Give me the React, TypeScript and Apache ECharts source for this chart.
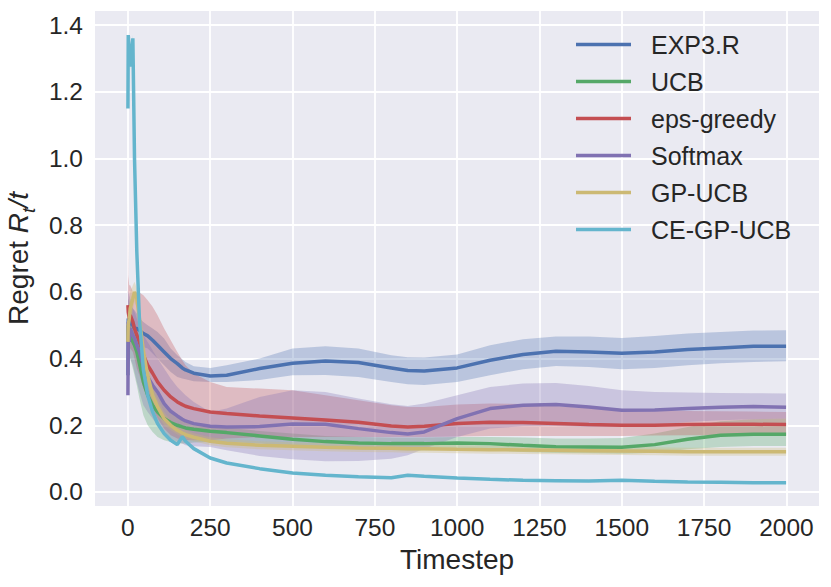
import React, { useEffect, useRef } from "react";
import * as echarts from "echarts";

const STEPS = [0, 1, 4, 7, 15, 20, 27, 35, 47, 60, 75, 90, 110, 130, 150, 165, 175, 200, 250, 300, 400, 500, 600, 700, 800, 850, 900, 1000, 1100, 1200, 1300, 1400, 1500, 1600, 1700, 1800, 1900, 1999];

const X_TICKS = [0, 250, 500, 750, 1000, 1250, 1500, 1750, 2000];
const Y_TICKS = [0, 0.2, 0.4, 0.6, 0.8, 1.0, 1.2, 1.4];

const NAMES = ["EXP3.R", "UCB", "eps-greedy", "Softmax", "GP-UCB", "CE-GP-UCB"];
const COLORS = ["#4C72B0", "#55A868", "#C44E52", "#8172B2", "#CCB974", "#64B5CD"];

// EXP3.R
const exp3Mean = [0.35, 0.52, 0.5, 0.515, 0.5, 0.49, 0.49, 0.485, 0.475, 0.468, 0.455, 0.44, 0.42, 0.4, 0.385, 0.372, 0.366, 0.356, 0.348, 0.35, 0.37, 0.386, 0.393, 0.388, 0.372, 0.364, 0.363, 0.372, 0.395, 0.412, 0.422, 0.42, 0.416, 0.42, 0.427, 0.432, 0.437, 0.437];
const exp3Upper = [0.6, 0.58, 0.57, 0.56, 0.55, 0.545, 0.535, 0.52, 0.51, 0.5, 0.49, 0.48, 0.46, 0.43, 0.41, 0.398, 0.39, 0.377, 0.372, 0.38, 0.4, 0.43, 0.437, 0.43, 0.41, 0.404, 0.403, 0.412, 0.44, 0.458, 0.466, 0.466, 0.462, 0.468, 0.475, 0.48, 0.484, 0.485];
const exp3Lower = [0.3, 0.46, 0.45, 0.45, 0.45, 0.445, 0.44, 0.44, 0.435, 0.43, 0.415, 0.4, 0.38, 0.36, 0.345, 0.34, 0.338, 0.332, 0.33, 0.33, 0.336, 0.35, 0.351, 0.345, 0.33, 0.323, 0.321, 0.33, 0.35, 0.368, 0.378, 0.375, 0.368, 0.372, 0.38, 0.386, 0.39, 0.392];

// UCB
const ucbMean = [0.45, 0.5, 0.48, 0.47, 0.45, 0.44, 0.42, 0.385, 0.33, 0.29, 0.26, 0.24, 0.22, 0.208, 0.2, 0.195, 0.192, 0.188, 0.182, 0.178, 0.168, 0.158, 0.151, 0.147, 0.145, 0.145, 0.145, 0.147, 0.145, 0.14, 0.136, 0.135, 0.134, 0.142, 0.158, 0.17, 0.173, 0.173];
const ucbUpper = [0.55, 0.56, 0.55, 0.54, 0.52, 0.51, 0.49, 0.46, 0.41, 0.36, 0.32, 0.29, 0.26, 0.24, 0.225, 0.215, 0.21, 0.205, 0.198, 0.193, 0.183, 0.175, 0.168, 0.165, 0.163, 0.163, 0.163, 0.165, 0.165, 0.163, 0.16, 0.16, 0.162, 0.175, 0.195, 0.212, 0.218, 0.22];
const ucbLower = [0.3, 0.42, 0.41, 0.4, 0.37, 0.35, 0.32, 0.28, 0.23, 0.2, 0.18, 0.165, 0.155, 0.15, 0.145, 0.145, 0.145, 0.148, 0.15, 0.15, 0.145, 0.138, 0.132, 0.128, 0.126, 0.125, 0.125, 0.127, 0.125, 0.12, 0.117, 0.116, 0.115, 0.118, 0.128, 0.135, 0.138, 0.138];

// eps-greedy
const epsMean = [0.56, 0.54, 0.52, 0.53, 0.51, 0.49, 0.47, 0.45, 0.41, 0.38, 0.356, 0.33, 0.305, 0.285, 0.27, 0.262, 0.257, 0.25, 0.24, 0.235, 0.228, 0.222, 0.216, 0.209, 0.198, 0.195, 0.197, 0.205, 0.209, 0.208, 0.205, 0.202, 0.2, 0.2, 0.202, 0.203, 0.203, 0.202];
const epsUpper = [0.88, 0.65, 0.62, 0.62, 0.6, 0.6, 0.6, 0.598, 0.59, 0.575, 0.555, 0.53, 0.49, 0.455, 0.42, 0.395, 0.38, 0.355, 0.33, 0.315, 0.31, 0.305, 0.29, 0.275, 0.26, 0.255, 0.255, 0.262, 0.265, 0.264, 0.258, 0.252, 0.248, 0.245, 0.243, 0.242, 0.241, 0.24];
const epsLower = [0.38, 0.45, 0.44, 0.43, 0.42, 0.4, 0.37, 0.35, 0.31, 0.28, 0.25, 0.22, 0.19, 0.17, 0.16, 0.157, 0.156, 0.155, 0.155, 0.16, 0.165, 0.165, 0.165, 0.165, 0.165, 0.165, 0.165, 0.166, 0.168, 0.168, 0.168, 0.168, 0.168, 0.169, 0.17, 0.17, 0.17, 0.17];

// Softmax
const softMean = [0.29, 0.51, 0.45, 0.49, 0.47, 0.46, 0.44, 0.42, 0.375, 0.345, 0.32, 0.3, 0.265, 0.242, 0.228, 0.218, 0.213, 0.205, 0.197, 0.195, 0.196, 0.204, 0.203, 0.19, 0.178, 0.174, 0.18, 0.22, 0.25, 0.26, 0.262, 0.255, 0.245, 0.246, 0.25, 0.254, 0.256, 0.254];
const softUpper = [0.82, 0.6, 0.59, 0.58, 0.55, 0.54, 0.52, 0.5, 0.47, 0.45, 0.425, 0.4, 0.37, 0.34, 0.315, 0.3, 0.29, 0.27, 0.24, 0.25, 0.285, 0.305, 0.3, 0.28, 0.263, 0.258, 0.265, 0.29, 0.315, 0.325, 0.327, 0.318, 0.305, 0.3, 0.298, 0.297, 0.296, 0.295];
const softLower = [0.1, 0.35, 0.38, 0.4, 0.38, 0.36, 0.33, 0.3, 0.26, 0.24, 0.22, 0.2, 0.18, 0.16, 0.15, 0.145, 0.14, 0.137, 0.135, 0.125, 0.108, 0.098, 0.092, 0.093, 0.1, 0.11, 0.13, 0.165, 0.19, 0.197, 0.198, 0.195, 0.195, 0.2, 0.21, 0.215, 0.218, 0.22];

// GP-UCB
const gpMean = [0.45, 0.5, 0.52, 0.55, 0.58, 0.6, 0.58, 0.52, 0.42, 0.35, 0.29, 0.255, 0.22, 0.2, 0.185, 0.177, 0.172, 0.164, 0.152, 0.146, 0.14, 0.137, 0.134, 0.132, 0.131, 0.13, 0.13, 0.128, 0.127, 0.126, 0.125, 0.124, 0.123, 0.122, 0.121, 0.121, 0.121, 0.121];
const gpUpper = [0.5, 0.55, 0.57, 0.6, 0.62, 0.63, 0.61, 0.56, 0.46, 0.39, 0.32, 0.28, 0.24, 0.215, 0.198, 0.19, 0.185, 0.176, 0.164, 0.158, 0.152, 0.149, 0.146, 0.144, 0.143, 0.142, 0.142, 0.14, 0.139, 0.138, 0.137, 0.136, 0.135, 0.134, 0.133, 0.133, 0.133, 0.133];
const gpLower = [0.4, 0.45, 0.47, 0.5, 0.54, 0.57, 0.55, 0.48, 0.38, 0.31, 0.26, 0.23, 0.2, 0.185, 0.172, 0.164, 0.16, 0.152, 0.14, 0.134, 0.128, 0.125, 0.122, 0.12, 0.119, 0.118, 0.118, 0.116, 0.115, 0.114, 0.113, 0.112, 0.111, 0.11, 0.109, 0.109, 0.109, 0.109];

// CE-GP-UCB
const ceMean = [1.15, 1.37, 1.32, 1.275, 1.36, 1.0, 0.72, 0.515, 0.366, 0.29, 0.24, 0.205, 0.175, 0.155, 0.142, 0.166, 0.152, 0.13, 0.102, 0.087, 0.07, 0.057, 0.05, 0.046, 0.043, 0.05, 0.047, 0.042, 0.038, 0.035, 0.034, 0.033, 0.035, 0.032, 0.03, 0.029, 0.028, 0.028];
const ceUpper = [1.16, 1.38, 1.33, 1.285, 1.37, 1.01, 0.73, 0.525, 0.374, 0.297, 0.246, 0.21, 0.18, 0.16, 0.147, 0.17, 0.156, 0.134, 0.105, 0.09, 0.073, 0.06, 0.053, 0.049, 0.046, 0.053, 0.05, 0.045, 0.041, 0.038, 0.037, 0.036, 0.038, 0.035, 0.033, 0.032, 0.031, 0.031];
const ceLower = [1.14, 1.36, 1.31, 1.265, 1.35, 0.99, 0.71, 0.505, 0.358, 0.283, 0.234, 0.2, 0.17, 0.15, 0.137, 0.162, 0.148, 0.126, 0.099, 0.084, 0.067, 0.054, 0.047, 0.043, 0.04, 0.047, 0.044, 0.039, 0.035, 0.032, 0.031, 0.03, 0.032, 0.029, 0.027, 0.026, 0.025, 0.025];

const MEANS = [exp3Mean, ucbMean, epsMean, softMean, gpMean, ceMean];
const UPPERS = [exp3Upper, ucbUpper, epsUpper, softUpper, gpUpper, ceUpper];
const LOWERS = [exp3Lower, ucbLower, epsLower, softLower, gpLower, ceLower];

const TEXT = "#262626";
const FONT = "'Liberation Sans', Arial, sans-serif";

export default function App() {
  const ref = useRef<HTMLDivElement>(null);
  useEffect(() => {
    document.body.style.margin = "0";
    const chart = echarts.init(ref.current!, null, { renderer: "svg" });

    const bandSeries = NAMES.map((name, k) => ({
      type: "custom",
      name: name + "-band",
      silent: true,
      clip: true,
      z: 1,
      data: [[STEPS[0], MEANS[k][0]]],
      renderItem: (params: any, api: any) => {
        const up = STEPS.map((s, i) => api.coord([s, UPPERS[k][i]]));
        const lo = STEPS.map((s, i) => api.coord([s, LOWERS[k][i]])).reverse();
        return {
          type: "polygon",
          shape: { points: up.concat(lo) },
          style: { fill: COLORS[k], opacity: 0.3 },
        };
      },
    }));

    const lineSeries = NAMES.map((name, k) => ({
      type: "line",
      name,
      z: 3,
      showSymbol: false,
      symbol: "none",
      color: COLORS[k],
      lineStyle: { width: 3.5, color: COLORS[k] },
      data: STEPS.map((s, i) => [s, MEANS[k][i]]),
    }));

    chart.setOption({
      animation: false,
      backgroundColor: "#ffffff",
      textStyle: { fontFamily: FONT },
      grid: { left: 95, right: 12, top: 11, bottom: 81, outerBoundsMode: "none", backgroundColor: "#EAEAF2", show: true, borderWidth: 0 },
      legend: {
        data: NAMES,
        orient: "vertical",
        left: 571,
        top: 27,
        itemWidth: 55,
        itemHeight: 3.5,
        itemGap: 12,
        icon: "rect",
        textStyle: { fontSize: 25, color: TEXT, fontFamily: FONT, lineHeight: 25, padding: [0, 0, 0, 15] },
      },
      xAxis: {
        type: "value",
        min: -100,
        max: 2099,
        name: "Timestep",
        nameLocation: "middle",
        nameGap: 39,
        nameTextStyle: { fontSize: 28, color: TEXT, fontFamily: FONT, lineHeight: 28 },
        axisLine: { show: false },
        axisTick: { show: false, customValues: X_TICKS },
        axisLabel: { customValues: X_TICKS, fontSize: 24.5, color: TEXT, margin: 9, fontFamily: FONT, formatter: (v: number) => String(v) },
        splitLine: { show: true, lineStyle: { color: "#ffffff", width: 1.8 } },
      },
      yAxis: {
        type: "value",
        min: -0.042,
        max: 1.442,
        name: "{a|Regret }{i|R}{s|t}{i|/t}",
        nameLocation: "middle",
        nameGap: 50,
        nameTextStyle: {
          fontSize: 28,
          color: TEXT,
          fontFamily: FONT,
          rich: {
            a: { fontSize: 28, color: TEXT, fontFamily: FONT, lineHeight: 40, verticalAlign: "middle" },
            i: { fontSize: 28, color: TEXT, fontFamily: FONT, fontStyle: "italic", lineHeight: 40, verticalAlign: "middle" },
            s: { fontSize: 19, color: TEXT, fontFamily: FONT, fontStyle: "italic", lineHeight: 19, verticalAlign: "bottom" },
          },
        },
        axisLine: { show: false },
        axisTick: { show: false, customValues: Y_TICKS },
        axisLabel: {
          customValues: Y_TICKS,
          fontSize: 24.5,
          color: TEXT,
          margin: 12,
          fontFamily: FONT,
          formatter: (v: number) => v.toFixed(1),
        },
        splitLine: { show: true, lineStyle: { color: "#ffffff", width: 1.8 } },
      },
      series: [...bandSeries, ...lineSeries],
    });
    return () => chart.dispose();
  }, []);
  return <div ref={ref} style={{ width: 831, height: 587 }} />;
}
